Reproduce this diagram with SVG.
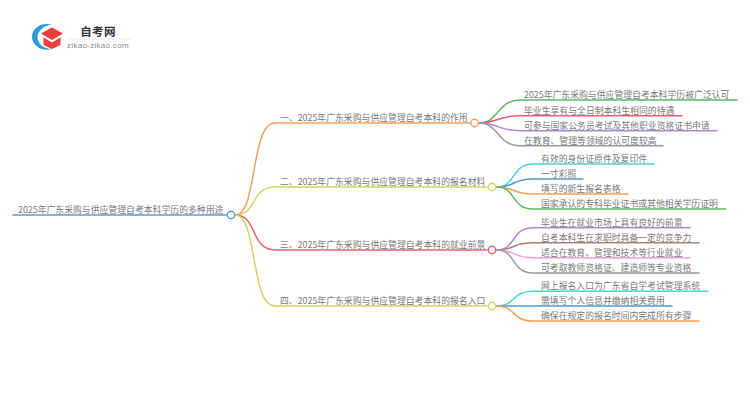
<svg xmlns="http://www.w3.org/2000/svg" width="750" height="410" viewBox="0 0 750 410">
<style>
text{font-family:"Noto Sans CJK SC","Liberation Sans",sans-serif;font-size:8.85px;fill:#7a7a7a}
.c{fill:none;stroke-width:1.5;stroke-linecap:round}
.n{fill:#fff;stroke-width:1.4}
</style>
<rect width="750" height="410" fill="#fff"/>
<g id="logo">
<path d="M52 24.500C40 22 32 29 32 37C32 45 41 52 52 49C44 49 37.500 44 37.500 37C37.500 31 44 25.500 52 24.500Z" fill="#2d9bd8"/>
<path d="M41 33.500L52 27.500L63 33.500L52 40Z" fill="#e8403a"/>
<path d="M43.500 37.500L52 42.500L60.500 37.500V45L52 49L43.500 45Z" fill="#e8403a"/>
<text x="98" y="35.500" text-anchor="middle" style="font-size:11.500px;font-weight:700;fill:#333;letter-spacing:.3px">自考网</text>
<line x1="66" y1="39" x2="131" y2="39" stroke="#e4e4e4" stroke-width=".8"/>
<text x="67" y="48" style="font-family:'Liberation Sans',sans-serif;font-size:8px;fill:#8a8a8a;letter-spacing:.3px">zikao-zikao.com</text>
</g>
<g id="connectors">
<path class="c" stroke="#5aa0d0" d="M13 215H226"/>
<path class="c" stroke="#fb9f56" d="M235 215C258 215 250 123 275 123H470"/>
<path class="c" stroke="#d2d45f" d="M235 215C258 215 250 187 275 187H487"/>
<path class="c" stroke="#e8606a" d="M235 215C258 215 250 250 275 250H487"/>
<path class="c" stroke="#d2d45f" d="M235 215C258 215 250 306 275 306H487"/>
<path class="c" stroke="#5cb85c" d="M479 123C499 123 497 100 520 100H737"/>
<path class="c" stroke="#e8606a" d="M479 123C499 123 497 115.700 520 115.700H682"/>
<path class="c" stroke="#b184d8" d="M479 123C499 123 497 130.700 520 130.700H717"/>
<path class="c" stroke="#999" d="M479 123C499 123 497 145.700 520 145.700H663"/>
<path class="c" stroke="#4fd0e0" d="M497 187C516 187 511 164 533 164H654"/>
<path class="c" stroke="#4a9bd4" d="M497 187C516 187 511 179 533 179H583"/>
<path class="c" stroke="#fb9f56" d="M497 187C516 187 511 194 533 194H628"/>
<path class="c" stroke="#5cb85c" d="M497 187C516 187 511 209 533 209H726"/>
<path class="c" stroke="#b184d8" d="M497 250C516 250 511 227.700 533 227.700H690"/>
<path class="c" stroke="#a9827c" d="M497 250C516 250 511 242.700 533 242.700H699"/>
<path class="c" stroke="#ee9ed8" d="M497 250C516 250 511 257.700 533 257.700H690"/>
<path class="c" stroke="#999" d="M497 250C516 250 511 273 533 273H699"/>
<path class="c" stroke="#4fd0e0" d="M497 306C516 306 511 291.300 533 291.300H708"/>
<path class="c" stroke="#4a9bd4" d="M497 306C516 306 511 306 533 306H672"/>
<path class="c" stroke="#fb9f56" d="M497 306C516 306 511 321 533 321H699"/>
</g>
<g id="root"><text x="18" y="213">2025年广东采购与供应管理自考本科学历的多种用途</text><circle class="n" cx="231" cy="215" r="3.700" stroke="#4a9bd4"/></g>
<g id="b1"><text x="280" y="121">一、2025年广东采购与供应管理自考本科的作用</text><circle class="n" cx="474.500" cy="123" r="3.700" stroke="#fb9f56"/></g>
<g id="b2"><text x="280" y="185">二、2025年广东采购与供应管理自考本科的报名材料</text><circle class="n" cx="492" cy="187" r="3.700" stroke="#d2d45f"/></g>
<g id="b3"><text x="280" y="248">三、2025年广东采购与供应管理自考本科的就业前景</text><circle class="n" cx="492" cy="250" r="3.700" stroke="#e8606a"/></g>
<g id="b4"><text x="280" y="304">四、2025年广东采购与供应管理自考本科的报名入口</text><circle class="n" cx="492" cy="306" r="3.700" stroke="#d2d45f"/></g>
<g id="l11"><text x="524" y="98">2025年广东采购与供应管理自考本科学历被广泛认可</text></g>
<g id="l12"><text x="524" y="113.500">毕业生享有与全日制本科生相同的待遇</text></g>
<g id="l13"><text x="524" y="128.500">可参与国家公务员考试及其他职业资格证书申请</text></g>
<g id="l14"><text x="524" y="143.500">在教育、管理等领域的认可度较高</text></g>
<g id="l21"><text x="541" y="162">有效的身份证原件及复印件</text></g>
<g id="l22"><text x="541" y="177">一寸彩照</text></g>
<g id="l23"><text x="541" y="192">填写的新生报名表格</text></g>
<g id="l24"><text x="541" y="207">国家承认的专科毕业证书或其他相关学历证明</text></g>
<g id="l31"><text x="541" y="225.500">毕业生在就业市场上具有良好的前景</text></g>
<g id="l32"><text x="541" y="240.500">自考本科生在求职时具备一定的竞争力</text></g>
<g id="l33"><text x="541" y="255.500">适合在教育、管理和技术等行业就业</text></g>
<g id="l34"><text x="541" y="271">可考取教师资格证、建造师等专业资格</text></g>
<g id="l41"><text x="541" y="289">网上报名入口为广东省自学考试管理系统</text></g>
<g id="l42"><text x="541" y="304">需填写个人信息并缴纳相关费用</text></g>
<g id="l43"><text x="541" y="319">确保在规定的报名时间内完成所有步骤</text></g>
</svg>
